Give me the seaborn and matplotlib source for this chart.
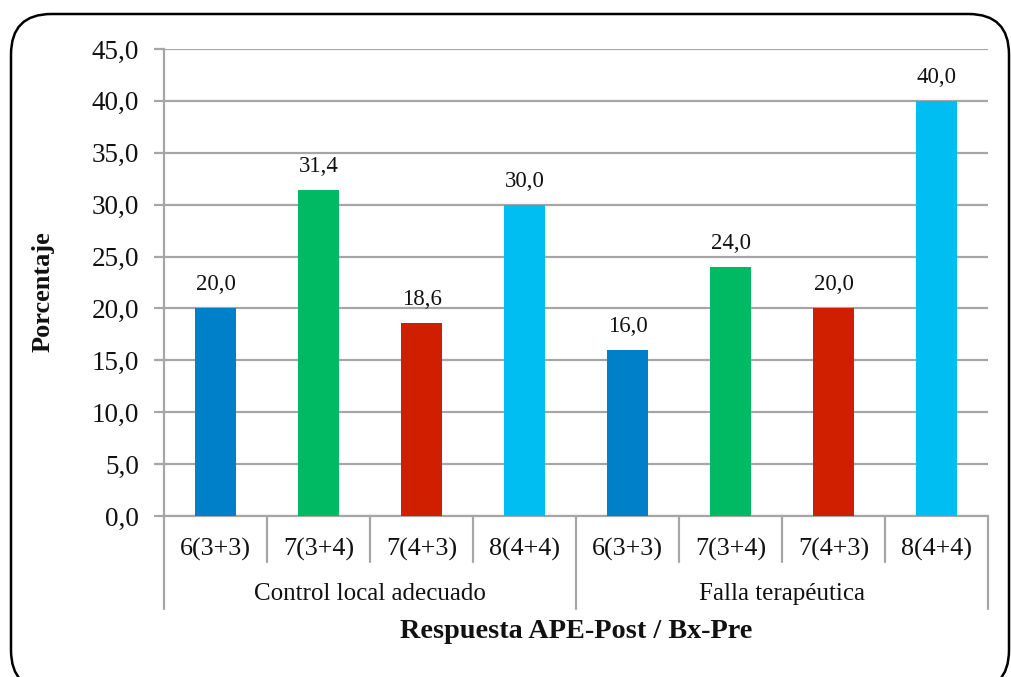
import matplotlib
matplotlib.use("Agg")
import matplotlib.pyplot as plt
import matplotlib.transforms as mtransforms
from matplotlib.patches import FancyBboxPatch
import seaborn as sns
import pandas as pd

# ---- data ----
groups = ["Control local adecuado", "Falla terapéutica"]
subcats = ["6(3+3)", "7(3+4)", "7(4+3)", "8(4+4)"]
control_values = [20.0, 31.4, 18.6, 30.0]
falla_values = [16.0, 24.0, 20.0, 40.0]
bar_colors = ["#0080C8", "#00B963", "#D01F00", "#00BDF2"]
y_ticks = [0, 5, 10, 15, 20, 25, 30, 35, 40, 45]
y_label = "Porcentaje"
x_label = "Respuesta APE-Post / Bx-Pre"

rows = []
for g, vals in zip(groups, [control_values, falla_values]):
    for s, v in zip(subcats, vals):
        rows.append({"key": f"{g}|{s}", "group": g, "sub": s, "value": v})
df = pd.DataFrame(rows)

sns.set_theme(style="white")
plt.rcParams["font.family"] = ["Liberation Serif", "DejaVu Serif"]

fig = plt.figure(figsize=(10.11, 6.77), dpi=100)
ax = fig.add_axes([164 / 1011, 1 - 516 / 677, 824 / 1011, (516 - 49) / 677])

palette = {k: bar_colors[i % 4] for i, k in enumerate(df["key"])}
sns.barplot(data=df, x="key", y="value", hue="key", palette=palette,
            legend=False, width=0.4, saturation=1, ax=ax, zorder=3,
            linewidth=0)

grid_c = "#A6A6A6"
ax.set_ylim(0, 45)
ax.set_xlim(-0.5, len(df) - 0.5)
ax.set_yticks(y_ticks)
ax.set_yticklabels([f"{t:.1f}".replace(".", ",") for t in y_ticks], fontsize=19.5)
ax.yaxis.grid(True, color=grid_c, linewidth=1.6, zorder=0)
ax.set_axisbelow(True)
ax.tick_params(axis="y", length=7, width=1.6, color=grid_c, pad=11, left=True,
               labelcolor="#111111")
for side in ["top", "right"]:
    ax.spines[side].set_visible(False)
for side in ["left", "bottom"]:
    ax.spines[side].set_color(grid_c)
    ax.spines[side].set_linewidth(1.6)

# data labels
for p, v in zip(ax.patches, df["value"]):
    ax.annotate(f"{v:.1f}".replace(".", ","),
                (p.get_x() + p.get_width() / 2, p.get_height()),
                xytext=(0, 17), textcoords="offset points",
                ha="center", va="center", fontsize=16.5, color="#111111")

# multi-level category axis
ax.set_xticks([])
ax.set_xlabel("")
trans = mtransforms.blended_transform_factory(ax.transData, ax.transAxes)
ax_h_px = 516 - 49
short = -46 / ax_h_px
long_ = -93 / ax_h_px
n = len(df)
for i in range(n + 1):
    xb = i - 0.5
    is_group = (i % 4 == 0)
    ax.plot([xb, xb], [0, long_ if is_group else short], transform=trans,
            color=grid_c, lw=1.6, clip_on=False, zorder=1)
for i, s in enumerate(df["sub"]):
    ax.text(i, -33 / ax_h_px, s, transform=trans, ha="center", va="center",
            fontsize=18.8, color="#111111")
for gi, g in enumerate(groups):
    ax.text(gi * 4 + 1.5, -78 / ax_h_px, g, transform=trans, ha="center",
            va="center", fontsize=18, color="#111111")

ax.text(0.5, -116 / ax_h_px, x_label, transform=ax.transAxes, ha="center",
        va="center", fontsize=20.3, fontweight="bold", color="#111111")
ax.set_ylabel(y_label, fontsize=19, fontweight="bold", color="#111111")
ax.yaxis.set_label_coords((55 - 164) / 824, 1 - (292 - 49) / ax_h_px)

# rounded border
border = FancyBboxPatch((11 / 1011, -0.02), (1009 - 11) / 1011, (1 - 14 / 677) + 0.02,
                        boxstyle="round,pad=0,rounding_size=0.04",
                        transform=fig.transFigure, fill=False,
                        edgecolor="black", linewidth=1.8,
                        mutation_aspect=1011 / 677, clip_on=False)
fig.patches.append(border)

fig.savefig("out.png", dpi=100)
